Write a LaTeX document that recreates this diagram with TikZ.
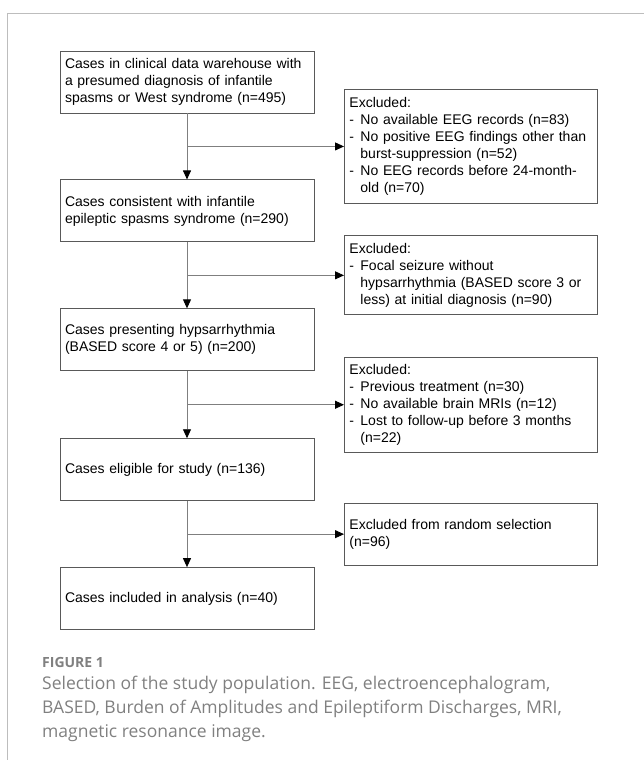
\documentclass[tikz,border=0pt]{standalone}
\usepackage{fontspec}
\setmainfont{Liberation Sans}
\newfontfamily\capfont{Open Sans}
\usepackage{tikz}
\usetikzlibrary{arrows.meta, positioning}
\definecolor{boxline}{HTML}{595959}
\definecolor{linkgray}{HTML}{7F7F7F}
\definecolor{framegray}{HTML}{BDBDBD}
\definecolor{capgray}{HTML}{808080}
\tikzstyle{stage} = [rectangle, draw=boxline, line width=0.9pt, minimum width=254pt, minimum height=62pt, text width=244pt, inner xsep=5pt, align=left, font={\fontsize{14pt}{17pt}\selectfont}]
\tikzstyle{excluded} = [stage, minimum width=253pt, text width=243pt]
\tikzstyle{arrow} = [draw=linkgray, line width=0.9pt, -{Triangle[length=9pt, width=8pt, color=black]}]
\newcommand{\exdash}{\makebox[11pt][l]{-}}
\newcommand{\exind}{\hspace*{11pt}}

\begin{document}
\begin{tikzpicture}[x=1pt, y=-1pt]
    \useasboundingbox (0,0) rectangle (644,760);
    \draw [framegray, line width=1.3pt] (7.3,760) -- (7.3,13.3) -- (644,13.3);

    \node (cases) [stage] at (187,82) {Cases in clinical data warehouse with\\ a presumed diagnosis of infantile\\ spasms or West syndrome (n=495)};
    \node (consistent) [stage, below=66pt of cases] {Cases consistent with infantile\\ epileptic spasms syndrome (n=290)};
    \node (hyps) [stage, below=66pt of consistent] {Cases presenting hypsarrhythmia\\ (BASED score 4 or 5) (n=200)};
    \node (eligible) [stage, below=67pt of hyps] {Cases eligible for study (n=136)};
    \node (included) [stage, below=66pt of eligible] {Cases included in analysis (n=40)};

    \coordinate[below=33pt of cases.south] (j1);
    \coordinate[below=33pt of consistent.south] (j2);
    \coordinate[below=33.5pt of hyps.south] (j3);
    \coordinate[below=33pt of eligible.south] (j4);

    \node (excl1) [excluded, minimum height=114pt, right=157pt of j1] {Excluded:\\ \exdash No available EEG records (n=83)\\ \exdash No positive EEG findings other than\\ \exind burst-suppression (n=52)\\ \exdash No EEG records before 24-month-\\ \exind old (n=70)};
    \node (excl2) [excluded, minimum height=79pt, right=157pt of j2] {Excluded:\\ \exdash Focal seizure without\\ \exind hypsarrhythmia (BASED score 3 or\\ \exind less) at initial diagnosis (n=90)};
    \node (excl3) [excluded, minimum height=95pt, right=157pt of j3] {Excluded:\\ \exdash Previous treatment (n=30)\\ \exdash No available brain MRIs (n=12)\\ \exdash Lost to follow-up before 3 months\\ \exind (n=22)};
    \node (excl4) [excluded, minimum height=62pt, right=157pt of j4] {Excluded from random selection\\ (n=96)};

    \draw [arrow] (cases) -- (consistent);
    \draw [arrow] (consistent) -- (hyps);
    \draw [arrow] (hyps) -- (eligible);
    \draw [arrow] (eligible) -- (included);
    \draw [arrow] (j1) -- (excl1);
    \draw [arrow] (j2) -- (excl2);
    \draw [arrow] (j3) -- (excl3);
    \draw [arrow] (j4) -- (excl4);

    \node (figlabel) [anchor=base west, inner sep=0pt, text=capgray, font={\capfont\bfseries\fontsize{14pt}{17pt}\selectfont}] at (42,667) {FIGURE 1};
    \node (caption) [anchor=north west, inner sep=0pt, align=left, text=capgray, font={\capfont\fontsize{17.5pt}{24pt}\selectfont}] at (42,676) {Selection of the study population. EEG, electroencephalogram,\\ BASED, Burden of Amplitudes and Epileptiform Discharges, MRI,\\ magnetic resonance image.};
\end{tikzpicture}
\end{document}
